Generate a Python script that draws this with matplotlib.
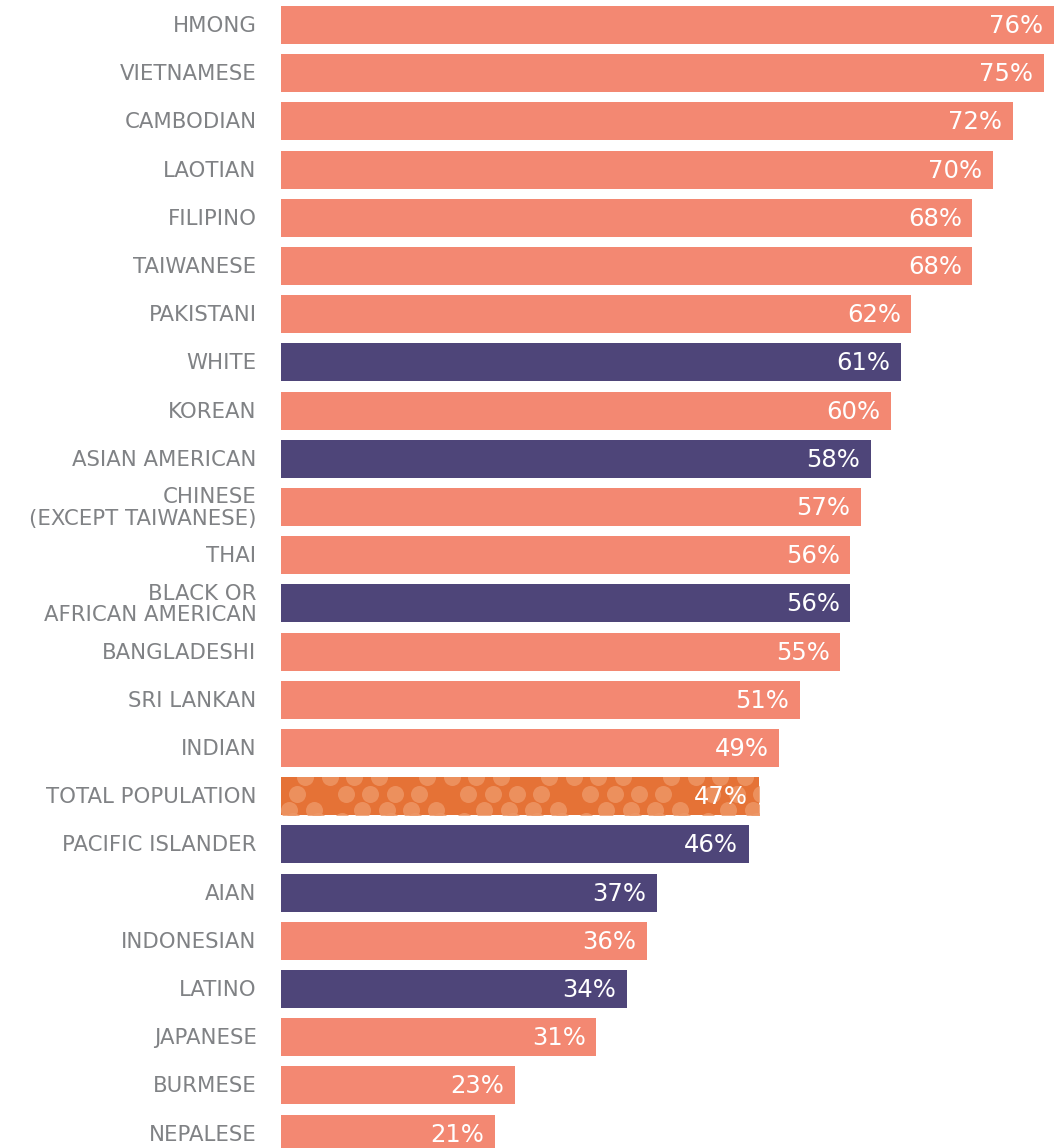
import matplotlib.pyplot as plt
import numpy as np

groups = ["HMONG", "VIETNAMESE", "CAMBODIAN", "LAOTIAN", "FILIPINO", "TAIWANESE",
          "PAKISTANI", "WHITE", "KOREAN", "ASIAN AMERICAN", "CHINESE\n(EXCEPT TAIWANESE)",
          "THAI", "BLACK OR\nAFRICAN AMERICAN", "BANGLADESHI", "SRI LANKAN", "INDIAN",
          "TOTAL POPULATION", "PACIFIC ISLANDER", "AIAN", "INDONESIAN", "LATINO",
          "JAPANESE", "BURMESE", "NEPALESE"]
values = [76, 75, 72, 70, 68, 68, 62, 61, 60, 58, 57, 56, 56, 55, 51, 49, 47, 46,
          37, 36, 34, 31, 23, 21]
kind = ["asian", "asian", "asian", "asian", "asian", "asian", "asian", "race",
        "asian", "race", "asian", "asian", "race", "asian", "asian", "asian",
        "total", "race", "race", "asian", "race", "asian", "asian", "asian"]

colors = {"asian": "#F38872", "race": "#4E4579", "total": "#E57236"}

fig = plt.figure(figsize=(10.63, 11.48), dpi=100)
ax = fig.add_axes([281 / 1063, 0, 1 - 281 / 1063, 1])

y = np.arange(len(groups))
bars = ax.barh(y, values, height=0.79, color=[colors[k] for k in kind])

ax.set_xlim(0, 76.9)
ax.set_ylim(23.30, -0.519)
ax.axis("off")

# dotted pattern on total population bar
ti = kind.index("total")
tb = bars[ti]
xs, ys = [], []
for r, dy in enumerate([-0.40, -0.05, 0.28, 0.52]):
    for j, xv in enumerate(np.arange(0.4 + (r % 2) * 1.2, values[ti] + 2, 2.4)):
        if (j * 7 + r * 3) % 5 != 0:
            xs.append(xv + 0.4 * ((j * 3 + r) % 3 - 1))
            ys.append(ti + dy)
sc = ax.scatter(xs, ys, s=150, color="#EE9868", alpha=0.8, linewidths=0, zorder=3)
sc.set_clip_path(tb)

for i, (g, v) in enumerate(zip(groups, values)):
    ax.text(-2.4, i + 0.02, g, ha="right", va="center", multialignment="right",
            fontsize=15.3, color="#808285", linespacing=1.1)
    ax.text(v - 1.05, i + 0.02, f"{v}%", ha="right", va="center",
            fontsize=17.5, color="white", zorder=4)

fig.savefig("out.png", dpi=100)
